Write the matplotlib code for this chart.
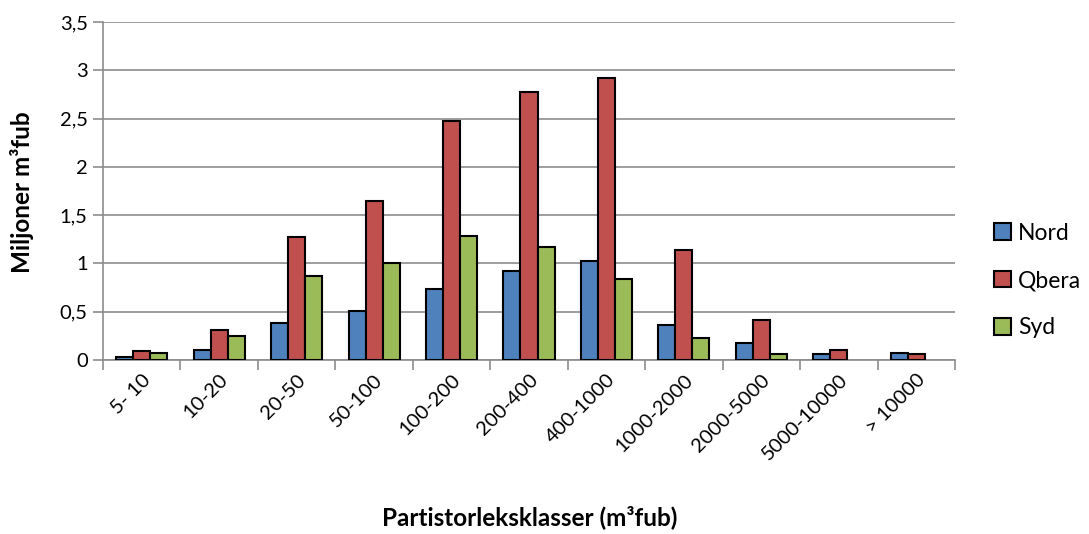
import matplotlib
matplotlib.use("Agg")
import matplotlib.pyplot as plt
import numpy as np

categories = ["5- 10", "10-20", "20-50", "50-100", "100-200", "200-400", "400-1000",
              "1000-2000", "2000-5000", "5000-10000", "> 10000"]
nord = [0.03, 0.10, 0.38, 0.51, 0.74, 0.92, 1.03, 0.36, 0.18, 0.06, 0.07]
qbera = [0.09, 0.31, 1.27, 1.65, 2.47, 2.78, 2.92, 1.14, 0.41, 0.10, 0.06]
syd = [0.07, 0.25, 0.87, 1.00, 1.28, 1.17, 0.84, 0.23, 0.06, 0.0, 0.0]
series = [("Nord", nord, "#4F81BD"), ("Qbera", qbera, "#C0504D"), ("Syd", syd, "#9BBB59")]
yticks = [0, 0.5, 1, 1.5, 2, 2.5, 3, 3.5]
ytick_labels = ["0", "0,5", "1", "1,5", "2", "2,5", "3", "3,5"]

plt.rcParams['font.family'] = ['Lato', 'DejaVu Sans']

fig = plt.figure(figsize=(10.89, 5.34), dpi=100)
ax = fig.add_axes([103/1089, (534-360)/534, (955-103)/1089, (360-22)/534])

x = np.arange(len(categories))
w = 0.22
for i, (name, vals, col) in enumerate(series):
    bars = ax.bar(x + (i - 1) * w, vals, width=w, color=col, edgecolor="black", linewidth=1.5,
                  label=name, zorder=3)
    for b, v in zip(bars, vals):
        if v == 0:
            b.set_visible(False)

ax.set_xlim(-0.5, len(categories) - 0.5)
ax.set_ylim(0, 3.5)
ax.set_yticks(yticks)
ax.set_yticklabels(ytick_labels, fontsize=14.5)
ax.yaxis.grid(True, color="#8c8c8c", linewidth=1.2, zorder=0)
ax.set_axisbelow(True)

ax.set_xticks(x)
ax.set_xticklabels(categories, rotation=45, ha="right", rotation_mode="anchor", fontsize=14.5)
ax.tick_params(axis="x", length=0, pad=8)
ax.set_xticks(np.arange(len(categories) + 1) - 0.5, minor=True)
ax.tick_params(axis="x", which="minor", length=7, width=1.2, color="#8c8c8c", direction="out")
ax.tick_params(axis="y", length=7, width=1.2, color="#8c8c8c", direction="out", pad=4)

for s in ["top", "right"]:
    ax.spines[s].set_visible(False)
for s in ["left", "bottom"]:
    ax.spines[s].set_color("#8c8c8c")
    ax.spines[s].set_linewidth(1.2)

fig.text(22/1089, 1 - 192/534, "Miljoner m³fub", fontsize=17.5, fontweight="bold",
         rotation=90, ha="center", va="center")
fig.text(530/1089, 1 - 517/534, "Partistorleksklasser (m³fub)", fontsize=17.5,
         fontweight="bold", ha="center", va="center")

leg = ax.legend(loc="center left", bbox_to_anchor=(1.035, 0.235), frameon=False, fontsize=16.5,
                handlelength=0.75, handleheight=0.75, handletextpad=0.3, labelspacing=1.15,
                borderaxespad=0)

fig.savefig("out.png", dpi=100)
